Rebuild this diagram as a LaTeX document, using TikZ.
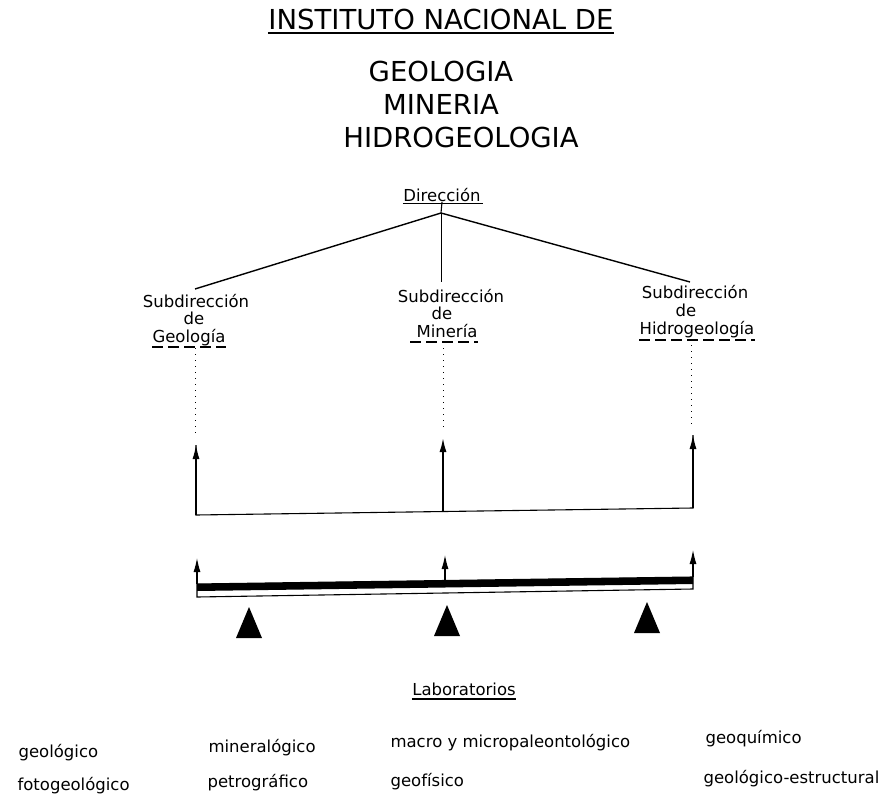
\documentclass[tikz,border=0pt]{standalone}
\usepackage{fontspec}
\setmainfont{DejaVu Sans}
\usetikzlibrary{arrows.meta}
\begin{document}
\begin{tikzpicture}[x=1pt,y=-1pt,line width=1.1pt,>={Latex[length=14pt,width=7pt]}]
\tikzset{title/.style={font=\fontsize{27.5}{31}\selectfont,inner sep=0pt,anchor=base},
sub/.style={font=\fontsize{16.5}{18}\selectfont,inner sep=0pt,anchor=base},
lab/.style={font=\fontsize{16.5}{18}\selectfont,inner sep=0pt,anchor=base west},
dashline/.style={line width=1.3pt,dash pattern=on 11pt off 5pt},
dotline/.style={line width=0.9pt,dash pattern=on 1pt off 5pt}}
\useasboundingbox (0,0) rectangle (890,794);
\node[title] (inst) at (441,30) {INSTITUTO NACIONAL DE};
\node[title] (geo) at (441,82) {GEOLOGIA};
\node[title] (mine) at (441,115) {MINERIA};
\node[title] (hidro) at (461,148) {HIDROGEOLOGIA};
\draw[line width=1.6pt] ([yshift=-3pt]inst.base west) -- ([yshift=-3pt]inst.base east);
\node[sub] (dir) at (442,202) {Dirección};
\draw ([yshift=-1.5pt]dir.base west) -- ([yshift=-1.5pt,xshift=2pt]dir.base east);
\coordinate (top) at (441,213);
\coordinate (gl) at (195,289);
\coordinate (ml) at (441,282);
\coordinate (hl) at (690,282);
\draw (dir.base) -- (top);
\draw[line width=1.4pt] (top) -- (gl);
\draw[line width=1.4pt] (top) -- (hl);
\draw[line width=0.8pt] (top) -- (ml);
\node[sub] (sg) at (196,307) {Subdirección};
\node[sub] (dg) at (194,324) {de};
\node[sub] (ng) at (189,342) {Geología};
\node[sub] (sm) at (451,302) {Subdirección};
\node[sub] (dm) at (442,319) {de};
\node[sub] (nm) at (447,337) {Minería};
\node[sub] (sh) at (695,298) {Subdirección};
\node[sub] (dh) at (686,316) {de};
\node[sub] (nh) at (697,334) {Hidrogeología};
\draw[dashline] ([yshift=-5pt]ng.base west) -- ([yshift=-5pt]ng.base east);
\draw[dashline] ([yshift=-5pt,xshift=-6pt]nm.base west) -- ([yshift=-5pt]nm.base east);
\draw[dashline] ([yshift=-6pt]nh.base west) -- ([yshift=-6pt]nh.base east);
\coordinate (d1) at (195,348);
\coordinate (e1) at (195,433);
\coordinate (d2) at (443,348);
\coordinate (e2) at (443,427);
\coordinate (d3) at (691,345);
\coordinate (e3) at (691,425);
\draw[dotline] (d1) -- (e1);
\draw[dotline] (d2) -- (e2);
\draw[dotline] (d3) -- (e3);
\coordinate (b1) at (196,515);
\coordinate (b2) at (443,512);
\coordinate (b3) at (693,508);
\coordinate (u1) at (196,445);
\coordinate (u2) at (443,438);
\coordinate (u3) at (693,435);
\draw (u1) -- (b1) -- (b3) -- (u3);
\path[->] (b1) edge (u1);
\path[->,line width=1.7pt] (b2) edge (u2);
\path[->] (b3) edge (u3);
\coordinate (k1) at (197,584);
\coordinate (k2) at (693,577);
\coordinate (k3) at (693,584);
\coordinate (k4) at (197,591);
\coordinate (k5) at (693,589);
\coordinate (k6) at (197,597);
\fill (k1) -- (k2) -- (k3) -- (k4) -- cycle;
\draw (k1) -- (k2) -- (k5) -- (k6) -- cycle;
\coordinate (v1) at (197,558);
\coordinate (w2) at (445,581);
\coordinate (v2) at (445,555);
\coordinate (v3) at (693,550);
\path[->] (k1) edge (v1);
\path[->] (w2) edge (v2);
\path[->] (k2) edge (v3);
\foreach \x/\y in {249/607,447/605,647/602}
  \fill (\x,\y) -- ++(-13,31) -- ++(26,0) -- cycle;
\node[sub] (labs) at (464,695) {Laboratorios};
\draw ([yshift=-4pt]labs.base west) -- ([yshift=-4pt]labs.base east);
\node[lab] (l1) at (18,757) {geológico};
\node[lab] (l2) at (208,752) {mineralógico};
\node[lab] (l3) at (390,747) {macro y micropaleontológico};
\node[lab] (l4) at (705,743) {geoquímico};
\node[lab] (l5) at (17,790) {fotogeológico};
\node[lab] (l6) at (207,787) {petrográfico};
\node[lab] (l7) at (390,786) {geofísico};
\node[lab] (l8) at (703,783) {geológico-estructural};
\end{tikzpicture}
\end{document}
